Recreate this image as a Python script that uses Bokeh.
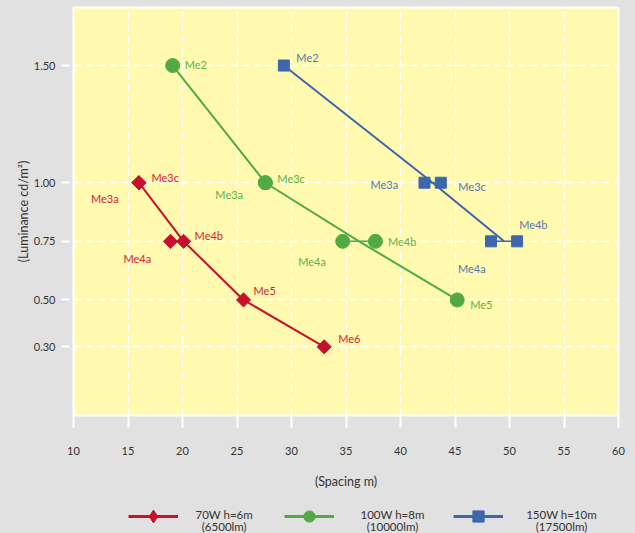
import numpy as np
from bokeh.plotting import figure
from bokeh.layouts import column
from bokeh.models import (ColumnDataSource, FixedTicker, Legend, LegendItem,
                          Label, Range1d)
from bokeh.core.properties import value
from bokeh.embed import file_html
from bokeh.resources import INLINE

# ---------------- data ----------------
x_ticks = [10, 15, 20, 25, 30, 35, 40, 45, 50, 55, 60]
y_ticks = [0.30, 0.50, 0.75, 1.00, 1.50]
y_tick_labels = ["0.30", "0.50", "0.75", "1.00", "1.50"]

series_names = ["70W h=6m", "100W h=8m", "150W h=10m"]
series_lumen = ["(6500lm)", "(10000lm)", "(17500lm)"]

red_classes = ["Me3a", "Me3c", "Me4a", "Me4b", "Me5", "Me6"]
red_spacing = [16.0, 16.0, 18.9, 20.1, 25.6, 33.0]
red_lum = [1.00, 1.00, 0.75, 0.75, 0.50, 0.30]
red_path_spacing = [16.0, 20.1, 25.6, 33.0]
red_path_lum = [1.00, 0.75, 0.50, 0.30]

green_classes = ["Me2", "Me3a", "Me3c", "Me4a", "Me4b", "Me5"]
green_spacing = [19.1, 27.6, 27.6, 34.7, 37.7, 45.2]
green_lum = [1.50, 1.00, 1.00, 0.75, 0.75, 0.50]
green_path_spacing = [19.1, 27.6, 36.2, 45.2]
green_path_lum = [1.50, 1.00, 0.75, 0.50]

blue_classes = ["Me2", "Me3a", "Me3c", "Me4a", "Me4b"]
blue_spacing = [29.3, 42.2, 43.7, 48.3, 50.7]
blue_lum = [1.50, 1.00, 1.00, 0.75, 0.75]
blue_path_spacing = [29.3, 42.95, 49.5]
blue_path_lum = [1.50, 1.00, 0.75]

# ---------------- styles ----------------
FONT = "Lato"
BG = "#e1e1e1"
PLOT_BG = "#fffaaf"
TXT = "#333333"
colors = ["#c8102e", "#52aa42", "#3d66ad"]
label_colors = ["#d0243a", "#5cb04b", "#5676b0"]
markers = ["square", "circle", "square"]
legend_markers = ["diamond", "circle", "square"]
marker_angles = [np.pi / 4, 0.0, 0.0]
marker_sizes = [10, 14, 11]
# pixel offsets of the class labels from their points
offsets = [
    [(-48, 16), (12.5, -5), (-47, 17), (11, -6), (10, -9.5), (14, -8)],
    [(12, -1), (-50, 12), (12, -4.5), (-44.5, 20), (12.5, 0), (13, 4.5)],
    [(12.5, -8.5), (-54, 2), (17.5, 3.5), (-33, 27), (2, -16.5)],
]
W, H = 635, 533
LEG_H = 38
FRAME_LEFT = 73
legend_x = [128, 284, 453]
legend_text_x = [223.7, 392, 561]
legend_gh = [32, 28, 28]

p = figure(width=W, height=H - LEG_H, output_backend="svg",
           toolbar_location=None,
           x_range=Range1d(10, 60), y_range=Range1d(0.007, 1.7475),
           min_border_left=FRAME_LEFT, min_border_right=17, min_border_top=7,
           min_border_bottom=H - LEG_H - 415,
           background_fill_color=PLOT_BG, border_fill_color=BG)
p.outline_line_color = "white"
p.outline_line_width = 2

p.xgrid.ticker = FixedTicker(ticks=x_ticks)
p.ygrid.ticker = FixedTicker(ticks=y_ticks)
p.grid.grid_line_color = "white"
p.grid.grid_line_width = 1.3
p.grid.grid_line_dash = "8 4"

p.xaxis.ticker = FixedTicker(ticks=x_ticks)
p.yaxis.ticker = FixedTicker(ticks=y_ticks)
p.yaxis.major_label_overrides = {t: s for t, s in zip(y_ticks, y_tick_labels)}
p.axis.axis_line_color = None
p.axis.minor_tick_line_color = None
p.axis.major_tick_line_color = "white"
p.axis.major_tick_line_width = 2
p.xaxis.major_tick_in = 0
p.xaxis.major_tick_out = 12
p.yaxis.major_tick_in = -4
p.yaxis.major_tick_out = 12
p.axis.major_label_text_font = FONT
p.axis.major_label_text_font_size = "11px"
p.axis.major_label_text_color = TXT
p.xaxis.major_label_standoff = 19
p.yaxis.major_label_standoff = 6
p.axis.axis_label_text_font = FONT
p.axis.axis_label_text_font_size = "12.5px"
p.axis.axis_label_text_font_style = "normal"
p.axis.axis_label_text_color = TXT
p.xaxis.axis_label = "(Spacing m)"
p.yaxis.axis_label = "(Luminance cd/m²)"
p.xaxis.axis_label_standoff = 16
p.yaxis.axis_label_standoff = 0

# legend strip below the chart (its frame is aligned with the chart's frame)
q = figure(width=W, height=LEG_H, output_backend="svg", toolbar_location=None,
           x_range=Range1d(0, 1), y_range=Range1d(0, 1),
           x_axis_type=None, y_axis_type=None,
           min_border_left=FRAME_LEFT, min_border_right=17, min_border_top=0,
           min_border_bottom=0, background_fill_color=BG,
           border_fill_color=BG)
q.outline_line_color = None
q.grid.visible = False

all_series = [
    (red_classes, red_spacing, red_lum, red_path_spacing, red_path_lum),
    (green_classes, green_spacing, green_lum, green_path_spacing, green_path_lum),
    (blue_classes, blue_spacing, blue_lum, blue_path_spacing, blue_path_lum),
]

for i, (cls, xs, ys, px, py) in enumerate(all_series):
    c = colors[i]
    # main line
    p.line(px, py, line_color=c, line_width=2)
    # connectors between the pairs at equal luminance
    x0s, x1s, yps = [], [], []
    for lv in sorted(set(ys)):
        xx = [x for x, y in zip(xs, ys) if y == lv]
        if len(xx) > 1 and max(xx) > min(xx):
            x0s.append(min(xx)); x1s.append(max(xx)); yps.append(lv)
    if x0s:
        p.segment(x0=x0s, y0=yps, x1=x1s, y1=yps, line_color=c, line_width=1.5)
    p.scatter(xs, ys, marker=markers[i], size=marker_sizes[i],
              angle=marker_angles[i], fill_color=c, line_color=c)
    src = ColumnDataSource(dict(x=xs, y=ys, t=cls,
                                dx=[o[0] for o in offsets[i]],
                                dy=[o[1] for o in offsets[i]]))
    p.text(x="x", y="y", text="t", x_offset="dx", y_offset="dy", source=src,
           text_font=value(FONT), text_font_size="11px",
           text_color=label_colors[i], text_align="left",
           text_baseline="middle")

    # legend swatches (renderers hold no visible point: NaN)
    lr = q.line([np.nan], [np.nan], line_color=c, line_width=3)
    sr = q.scatter([np.nan], [np.nan], marker=legend_markers[i],
                   fill_color=c, line_color=c)
    gh = legend_gh[i]
    leg = Legend(items=[LegendItem(label=" ", renderers=[lr, sr])],
                 location=(legend_x[i] - FRAME_LEFT, 17 - gh / 2),
                 glyph_width=50, glyph_height=gh, padding=0, margin=0,
                 spacing=0, label_standoff=0, label_width=1, label_height=gh,
                 label_text_font_size="1px",
                 border_line_color=None, background_fill_alpha=0)
    q.add_layout(leg)
    q.add_layout(Label(x=legend_text_x[i] - FRAME_LEFT, y=19.3,
                       x_units="screen", y_units="screen",
                       text=series_names[i],
                       text_align="center", text_baseline="middle",
                       text_font=FONT, text_font_size="11.5px",
                       text_color=TXT))
    q.add_layout(Label(x=legend_text_x[i] - FRAME_LEFT, y=7,
                       x_units="screen", y_units="screen",
                       text=series_lumen[i],
                       text_align="center", text_baseline="middle",
                       text_font=FONT, text_font_size="11.5px",
                       text_color=TXT))

layout = column(p, q, spacing=0, styles={"background-color": BG})
open("out.html", "w").write(file_html(layout, INLINE, title="chart"))
